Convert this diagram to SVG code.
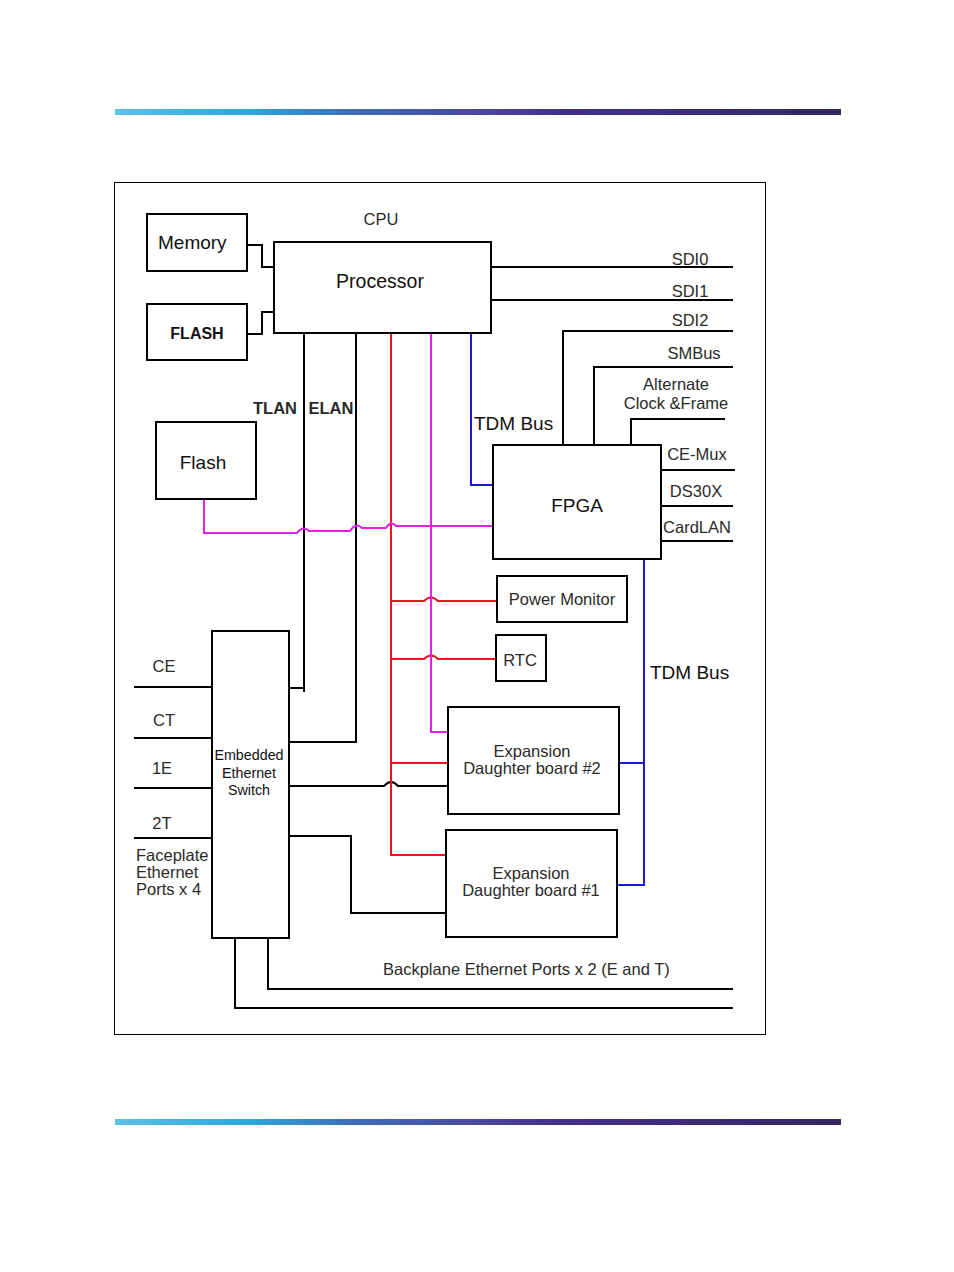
<svg xmlns="http://www.w3.org/2000/svg" width="954" height="1272" viewBox="0 0 954 1272">
<defs>
<linearGradient id="bar" x1="0" y1="0" x2="1" y2="0">
<stop offset="0" stop-color="#5cc0e6"/>
<stop offset="0.18" stop-color="#2ba8de"/>
<stop offset="0.32" stop-color="#3d6fb9"/>
<stop offset="0.5" stop-color="#4a48a0"/>
<stop offset="0.6" stop-color="#46308f"/>
<stop offset="1" stop-color="#352560"/>
</linearGradient>
<style>
.box{fill:#fff;stroke:#000;stroke-width:2}
.k{fill:none;stroke:#000;stroke-width:2}
.r{fill:none;stroke:#e8141e;stroke-width:2}
.m{fill:none;stroke:#e61ee6;stroke-width:2}
.b{fill:none;stroke:#1a1ad2;stroke-width:2}
text{font-family:"Liberation Sans",Arial,sans-serif;fill:#111}
.c{text-anchor:middle}
.s{font-size:16.5px;fill:#2a2a2a}
.l{font-size:19px}
.bd{font-weight:bold}
</style>
</defs>
<rect x="115" y="109" width="726" height="6" fill="url(#bar)"/>
<rect x="115" y="1119" width="726" height="6" fill="url(#bar)"/>
<rect x="114.5" y="182.5" width="651" height="852" fill="none" stroke="#000" stroke-width="1"/>

<g id="connectors">
<path class="k" d="M247,245 H262 V267 H274"/>
<path class="k" d="M247,334 H262 V312 H274"/>
<path class="k" d="M491,267 H733 M491,300 H733"/>
<path class="k" d="M733,331 H563 V445"/>
<path class="k" d="M733,367 H594 V445"/>
<path class="k" d="M725,419 H631 V445"/>
<path class="k" d="M661,470 H735 M661,506 H733 M661,541 H733"/>
<path class="k" d="M304,333 V692 M289,688 H304"/>
<path class="k" d="M356,333 V742 H289"/>
<path class="k" d="M134,687 H212 M134,738 H212 M134,788 H212"/>
<path class="k" d="M134,838 H212" stroke-width="1.2"/>
<path class="k" d="M289,786 H384 Q391,778 398,786 H448"/>
<path class="k" d="M289,836 H351 V913 H451"/>
<path class="k" d="M235,939 V1008 H733"/>
<path class="k" d="M268,939 V989 H733"/>
<path class="b" d="M471,333 V485 H493"/>
<path class="b" d="M644,560 V885 H617 M619,763 H644"/>
<path class="r" d="M391,333 V856"/>
<path class="r" d="M391,601 H424 Q431,594 438,601 H497"/>
<path class="r" d="M391,659 H424 Q431,652 438,659 H500"/>
<path class="r" d="M391,763 H448 M391,855 H446"/>
<path class="m" d="M431,333 V732 H448"/>
<path class="m" d="M204,499 V533 H297 Q303,525 309,531 H350 Q356,522 362,528 H386 Q391,520 396,526 H493"/>
</g>

<g id="memory"><rect class="box" x="147" y="214" width="100" height="57"/><text x="158" y="249" class="l">Memory</text></g>
<g id="flash-top"><rect class="box" x="147" y="304" width="100" height="56"/><text class="c bd" x="197" y="339" style="font-size:16px">FLASH</text></g>
<g id="processor"><rect class="box" x="274" y="242" width="217" height="91"/><text class="c" x="380" y="288" style="font-size:19.5px">Processor</text><text class="c s" x="381" y="225">CPU</text></g>
<g id="fpga"><rect class="box" x="493" y="445" width="168" height="114"/><text class="c l" x="577" y="512">FPGA</text></g>
<g id="flash"><rect class="box" x="156" y="422" width="100" height="77"/><text class="c l" x="203" y="469">Flash</text></g>
<g id="power-monitor"><rect class="box" x="497" y="576" width="130" height="46"/><text class="c s" x="562" y="605">Power Monitor</text></g>
<g id="rtc"><rect class="box" x="496" y="635" width="50" height="46"/><text class="c s" x="520" y="666">RTC</text></g>
<g id="switch"><rect class="box" x="212" y="631" width="77" height="307"/>
<text class="c" x="249" y="760" style="font-size:14.3px">Embedded</text><text class="c" x="249" y="778" style="font-size:14.3px">Ethernet</text><text class="c" x="249" y="795" style="font-size:14.3px">Switch</text></g>
<g id="exp2"><rect class="box" x="448" y="707" width="171" height="107"/><text class="c s" x="532" y="757">Expansion</text><text class="c s" x="532" y="774">Daughter board #2</text></g>
<g id="exp1"><rect class="box" x="446" y="830" width="171" height="107"/><text class="c s" x="531" y="879">Expansion</text><text class="c s" x="531" y="896">Daughter board #1</text></g>

<g id="labels">
<text class="c s" x="690" y="265">SDI0</text>
<text class="c s" x="690" y="297">SDI1</text>
<text class="c s" x="690" y="326">SDI2</text>
<text class="c s" x="694" y="359">SMBus</text>
<text class="c s" x="676" y="390">Alternate</text>
<text class="c s" x="676" y="409">Clock &amp;Frame</text>
<text class="c s bd" x="275" y="414">TLAN</text>
<text class="c s bd" x="331" y="414">ELAN</text>
<text class="l" x="474" y="430">TDM Bus</text>
<text class="c s" x="697" y="460">CE-Mux</text>
<text class="c s" x="696" y="497">DS30X</text>
<text class="c s" x="697" y="533">CardLAN</text>
<text class="l" x="650" y="679">TDM Bus</text>
<text class="c s" x="164" y="672">CE</text>
<text class="c s" x="164" y="726">CT</text>
<text class="c s" x="162" y="774">1E</text>
<text class="c s" x="162" y="829">2T</text>
<text class="s" x="136" y="861">Faceplate</text>
<text class="s" x="136" y="878">Ethernet</text>
<text class="s" x="136" y="895">Ports x 4</text>
<text class="s" x="383" y="975">Backplane Ethernet Ports x 2 (E and T)</text>
</g>
</svg>
